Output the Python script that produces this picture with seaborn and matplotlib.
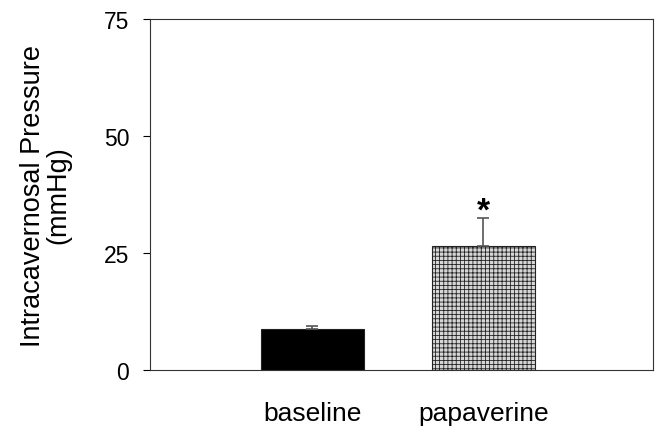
import matplotlib
matplotlib.use('Agg')
import matplotlib.pyplot as plt
import seaborn as sns
import pandas as pd

groups = ['baseline', 'papaverine']
pressure = [8.8, 26.6]
sem_up = [0.7, 5.9]
bar_colors = ['#000000', '#d6d6d6']

sns.set_style('ticks')
plt.rcParams['font.family'] = ['Liberation Sans', 'DejaVu Sans']
plt.rcParams['hatch.color'] = '#b0b0b0'
plt.rcParams['hatch.linewidth'] = 0.6
plt.rcParams['text.color'] = 'black'
plt.rcParams['xtick.color'] = 'black'
plt.rcParams['ytick.color'] = 'black'
plt.rcParams['axes.labelcolor'] = 'black'

df = pd.DataFrame({'group': groups, 'pressure': pressure})

fig, ax = plt.subplots(figsize=(6.58, 4.27), dpi=100)
fig.subplots_adjust(left=0.228, right=0.992, top=0.953, bottom=0.131)

sns.barplot(x='group', y='pressure', data=df, hue='group', palette=bar_colors,
            width=0.6, edgecolor='#222222', linewidth=0.8, legend=False, ax=ax)
ax.patches[1].set_hatch('++++')

# upper error bars only
ax.errorbar(range(len(groups)), pressure, yerr=[[0] * len(groups), sem_up],
            fmt='none', ecolor='#555555', elinewidth=1.2, capsize=4.5, capthick=1.2)
ax.text(1, pressure[1] + sem_up[1] + 1.4, '*', ha='center', va='center',
        fontsize=24, fontweight='bold')

ax.set_xlim(-0.95, 1.99)
ax.set_ylim(0, 75)
ax.set_yticks([0, 25, 50, 75])
ax.tick_params(axis='y', labelsize=16.5, length=5, width=0.8, direction='out', pad=10)
ax.tick_params(axis='x', labelsize=19, length=0, pad=22)
ax.set_xlabel('')
ax.set_ylabel('Intracavernosal Pressure\n(mmHg)', fontsize=19.5, labelpad=23,
              linespacing=1.0)
for s in ax.spines.values():
    s.set_linewidth(0.8)
    s.set_color('#333333')

fig.savefig('out.png', dpi=100)
